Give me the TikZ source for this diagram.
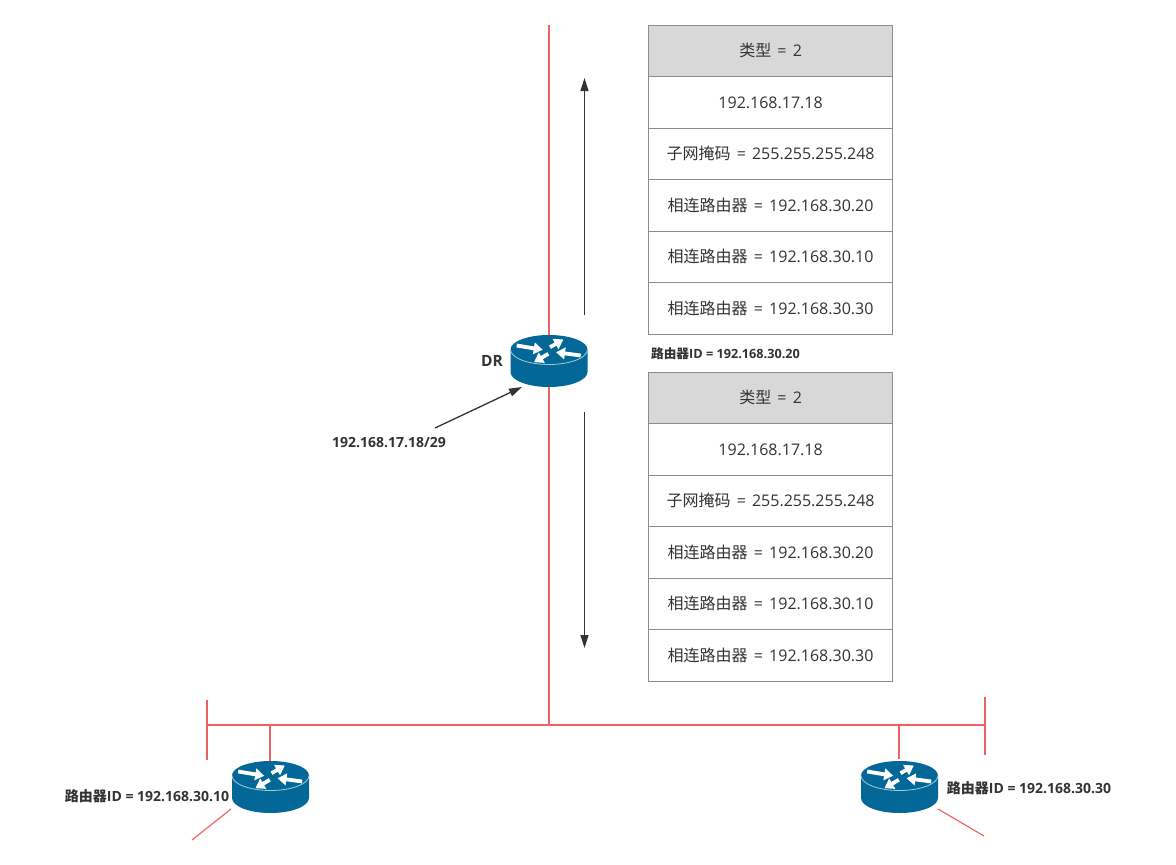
\documentclass[tikz,border=0pt]{standalone}
\usepackage{fontspec}
\setmainfont{Open Sans}
\newfontfamily\cjk{Noto Sans CJK SC}
\usetikzlibrary{arrows.meta}
\definecolor{netred}{HTML}{EC6066}
\definecolor{routerblue}{HTML}{036897}
\definecolor{cellgrey}{HTML}{D8D8D8}
\definecolor{cellline}{HTML}{8C8C8C}
\definecolor{inktext}{HTML}{333333}
\tikzset{
  cellbox/.style={draw=cellline,line width=1.2pt,minimum width=244pt,minimum height=51.5pt,inner sep=0pt,anchor=north west,text=inktext,font=\fontsize{16}{18}\selectfont,fill=white},
  headcell/.style={cellbox,fill=cellgrey},
  netline/.style={draw=netred,line width=1.15pt},
  flow/.style={draw=inktext,line width=1.3pt,-{Triangle[length=13pt,width=8pt]}},
  boldlabel/.style={text=inktext,font=\fontsize{14}{16}\selectfont\bfseries,inner sep=0pt},
  routerbox/.style={minimum width=78pt,minimum height=52pt,inner sep=0pt},
  white arrow/.style={draw=white,line width=3.8pt,-{Triangle[length=9pt,width=11.5pt]}},
  pics/router/.style={code={
    \fill[routerblue] (-38.5,0) -- (-38.5,22.5) arc[start angle=180,end angle=0,x radius=38.5,y radius=15] -- (38.5,0) arc[start angle=0,end angle=-180,x radius=38.5,y radius=14.5] -- cycle;
    \draw[draw=white!65!routerblue,line width=0.8pt] (-38.5,0) arc[start angle=180,end angle=0,x radius=38.5,y radius=15];
    \draw[white arrow] (-32.3,-4) -- (-6.3,0.3);
    \draw[white arrow] (1,-2.3) -- (14.3,-10);
    \draw[white arrow] (31.7,6) -- (7,2.7);
    \draw[white arrow] (-0.7,4.3) -- (-15,12.7);
  }}
}
\newcommand{\bid}[1]{{\cjk\bfseries 路由器}ID = #1}
\newcommand{\eqs}{\hspace{2pt} = \hspace{2pt}}
\newcommand{\peer}[1]{{\cjk 相连路由器}\eqs #1}
\begin{document}
\begin{tikzpicture}[x=1pt,y=-1pt]
\useasboundingbox (0,0) rectangle (1176,865);
% routers
\pic at (549,349.5) {router};
\pic at (270.5,775.5) {router};
\pic at (899.5,775.5) {router};
\node[routerbox] (dr) at (549,361) {};
\node[routerbox] (rb) at (270.5,787) {};
\node[routerbox] (rc) at (899.5,787) {};
% network coordinates
\coordinate (top) at (549,25);
\coordinate (drup) at (549,335);
\coordinate (drdown) at (549,387);
\coordinate (busmid) at (549,725);
\coordinate (busl) at (207,725);
\coordinate (busr) at (985,725);
\coordinate (ltop) at (207,700);
\coordinate (lbot) at (207,760);
\coordinate (rtop) at (985,697);
\coordinate (rbot) at (985,755);
\coordinate (bj) at (270,725);
\coordinate (cj) at (899,725);
\coordinate (bin) at (270,761);
\coordinate (cin) at (899,759);
\coordinate (bout) at (231,809);
\coordinate (bend) at (192,840);
\coordinate (cout) at (938,809);
\coordinate (cend) at (984,836);
\draw[netline] (top) -- (drup);
\draw[netline] (drdown) -- (busmid);
\draw[netline] (busl) -- (busr);
\draw[netline] (ltop) -- (lbot);
\draw[netline] (rtop) -- (rbot);
\draw[netline] (bj) -- (bin);
\draw[netline] (cj) -- (cin);
\draw[netline] (bout) -- (bend);
\draw[netline] (cout) -- (cend);
% arrows
\coordinate (upa) at (584.5,315);
\coordinate (upb) at (584.5,78);
\coordinate (dna) at (584.5,412);
\coordinate (dnb) at (584.5,648);
\coordinate (ipa) at (435,428);
\coordinate (ipb) at (522,387);
\draw[flow] (upa) -- (upb);
\draw[flow] (dna) -- (dnb);
\draw[flow] (ipa) -- (ipb);
% labels
\node[boldlabel] (drl) at (492,361) {\fontsize{15.5}{16}\selectfont DR};
\node[boldlabel] (ipl) at (389,443) {192.168.17.18/29};
\node[boldlabel,font=\fontsize{12.7}{16}\selectfont\bfseries] (ida) at (725.5,354) {\bid{192.168.30.20}};
\node[boldlabel] (idb) at (147,796) {\bid{192.168.30.10}};
\node[boldlabel] (idc) at (1029,788) {\bid{192.168.30.30}};
% table 1
\node[headcell] (a1) at (648,24.5) {{\cjk 类型}\eqs 2};
\node[cellbox] (a2) at (648,76) {192.168.17.18};
\node[cellbox] (a3) at (648,127.5) {{\cjk 子网掩码}\eqs 255.255.255.248};
\node[cellbox] (a4) at (648,179) {\peer{192.168.30.20}};
\node[cellbox] (a5) at (648,230.5) {\peer{192.168.30.10}};
\node[cellbox] (a6) at (648,282) {\peer{192.168.30.30}};
% table 2
\node[headcell] (b1) at (648,371.5) {{\cjk 类型}\eqs 2};
\node[cellbox] (b2) at (648,423) {192.168.17.18};
\node[cellbox] (b3) at (648,474.5) {{\cjk 子网掩码}\eqs 255.255.255.248};
\node[cellbox] (b4) at (648,526) {\peer{192.168.30.20}};
\node[cellbox] (b5) at (648,577.5) {\peer{192.168.30.10}};
\node[cellbox] (b6) at (648,629) {\peer{192.168.30.30}};
\end{tikzpicture}
\end{document}
